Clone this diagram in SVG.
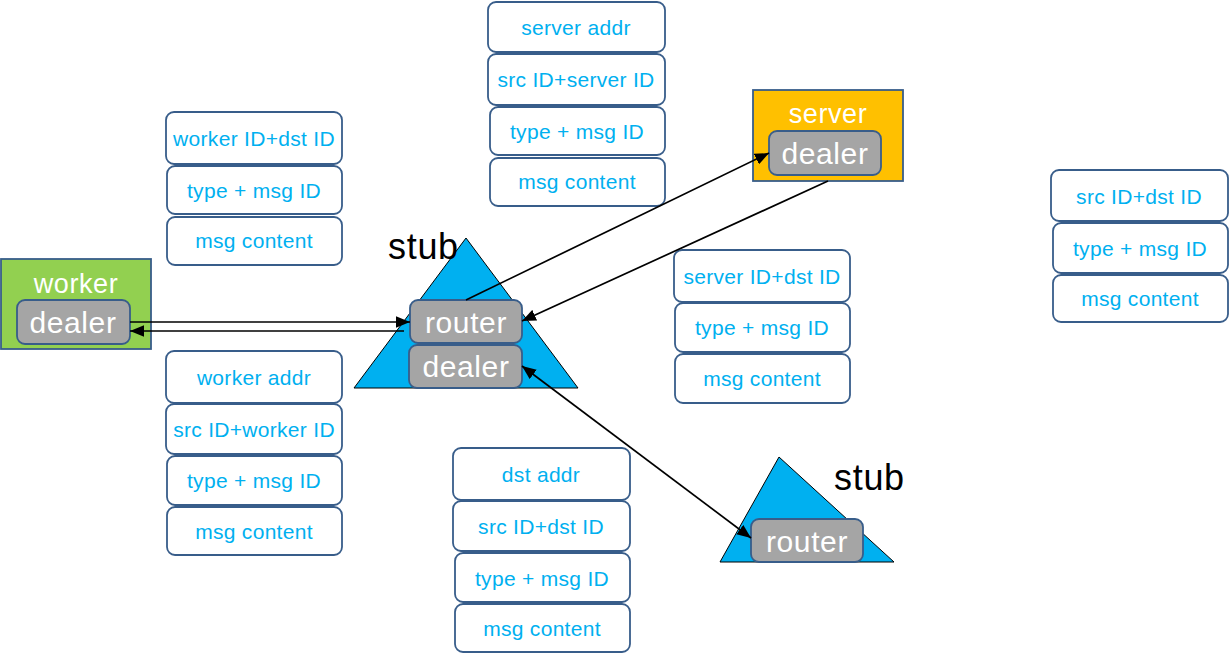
<svg xmlns="http://www.w3.org/2000/svg" width="1229" height="654" viewBox="0 0 1229 654">
<style>
.msg rect{fill:#fff;stroke:#385D8A;stroke-width:1.8}
.msg text{font-family:"Liberation Sans",Arial,sans-serif;font-size:21px;letter-spacing:0.3px;fill:#00B0F0;text-anchor:middle}
.sock{fill:#A5A5A5;stroke:#385D8A;stroke-width:1.8}
.sockt{font-family:"Liberation Sans",Arial,sans-serif;font-size:30px;letter-spacing:0.6px;fill:#fff;text-anchor:middle}
.title{font-family:"Liberation Sans",Arial,sans-serif;font-size:27px;letter-spacing:0.6px;fill:#fff;text-anchor:middle}
.stub{font-family:"Liberation Sans",Arial,sans-serif;font-size:36px;letter-spacing:0.7px;fill:#000}
.tri{fill:#00B0F0;stroke:#000;stroke-width:1}
.conn line{stroke:#000;stroke-width:1.7;fill:none}
</style>
<defs>
<marker id="a" viewBox="0 0 12 10" refX="12" refY="5" markerWidth="14" markerHeight="12" orient="auto-start-reverse" markerUnits="userSpaceOnUse">
<path d="M0,0 L12,5 L0,10 z" fill="#000"/>
</marker>
</defs>

<g id="worker">
<rect x="1" y="259" width="150" height="90" fill="#92D050" stroke="#385D8A" stroke-width="1.8"/>
<text class="title" x="76" y="293">worker</text>
<rect class="sock" x="17" y="300" width="113" height="44" rx="8"/>
<text class="sockt" x="73" y="333">dealer</text>
</g>

<g id="stub1">
<polygon class="tri" points="466,238 578,388 354,388"/>
<text class="stub" x="388" y="259">stub</text>
<rect class="sock" x="410" y="300" width="112" height="43" rx="8"/>
<text class="sockt" x="466" y="333">router</text>
<rect class="sock" x="409" y="345" width="113" height="43" rx="8"/>
<text class="sockt" x="466" y="377">dealer</text>
</g>

<g id="server">
<rect x="753" y="90" width="150" height="91" fill="#FFC000" stroke="#385D8A" stroke-width="1.8"/>
<text class="title" x="828" y="123">server</text>
<rect class="sock" x="769" y="131" width="112" height="44" rx="8"/>
<text class="sockt" x="825" y="164">dealer</text>
</g>

<g id="stub2">
<polygon class="tri" points="779,457 894,562 720,562"/>
<text class="stub" x="834" y="490">stub</text>
<rect class="sock" x="751" y="519" width="112" height="43" rx="8"/>
<text class="sockt" x="807" y="552">router</text>
</g>

<g id="msgA" class="msg">
<rect x="166" y="112" width="176" height="52" rx="8"/><text x="254" y="146">worker ID+dst ID</text>
<rect x="167" y="166" width="175" height="48" rx="8"/><text x="254" y="198">type + msg ID</text>
<rect x="167" y="217" width="175" height="48" rx="8"/><text x="254" y="248">msg content</text>
</g>

<g id="msgB" class="msg">
<rect x="166" y="351" width="176" height="52" rx="8"/><text x="254" y="385">worker addr</text>
<rect x="166" y="404" width="176" height="50" rx="8"/><text x="254" y="437">src ID+worker ID</text>
<rect x="167" y="456" width="175" height="49" rx="8"/><text x="254" y="488">type + msg ID</text>
<rect x="167" y="507" width="175" height="48" rx="8"/><text x="254" y="539">msg content</text>
</g>

<g id="msgC" class="msg">
<rect x="488" y="2" width="177" height="50" rx="8"/><text x="576" y="35">server addr</text>
<rect x="488" y="54" width="177" height="51" rx="8"/><text x="576" y="87">src ID+server ID</text>
<rect x="490" y="107" width="175" height="48" rx="8"/><text x="577" y="139">type + msg ID</text>
<rect x="490" y="158" width="175" height="48" rx="8"/><text x="577" y="189">msg content</text>
</g>

<g id="msgD" class="msg">
<rect x="674" y="250" width="176" height="52" rx="8"/><text x="762" y="284">server ID+dst ID</text>
<rect x="675" y="303" width="175" height="49" rx="8"/><text x="762" y="335">type + msg ID</text>
<rect x="675" y="354" width="175" height="49" rx="8"/><text x="762" y="386">msg content</text>
</g>

<g id="msgE" class="msg">
<rect x="1051" y="170" width="177" height="51" rx="8"/><text x="1139" y="204">src ID+dst ID</text>
<rect x="1053" y="223" width="175" height="50" rx="8"/><text x="1140" y="256">type + msg ID</text>
<rect x="1053" y="275" width="175" height="47" rx="8"/><text x="1140" y="306">msg content</text>
</g>

<g id="msgF" class="msg">
<rect x="453" y="448" width="177" height="52" rx="8"/><text x="541" y="482">dst addr</text>
<rect x="453" y="501" width="177" height="50" rx="8"/><text x="541" y="534">src ID+dst ID</text>
<rect x="455" y="553" width="175" height="49" rx="8"/><text x="542" y="586">type + msg ID</text>
<rect x="455" y="604" width="175" height="48" rx="8"/><text x="542" y="636">msg content</text>
</g>

<g id="connectors" class="conn">
<line x1="130" y1="322" x2="410" y2="322" marker-end="url(#a)"/>
<line x1="404" y1="331" x2="130" y2="331" marker-end="url(#a)"/>
<line x1="466" y1="300" x2="769" y2="153" marker-end="url(#a)"/>
<line x1="828" y1="181" x2="522" y2="321" marker-end="url(#a)"/>
<line x1="522" y1="366" x2="751" y2="538" marker-start="url(#a)" marker-end="url(#a)"/>
</g>
</svg>
